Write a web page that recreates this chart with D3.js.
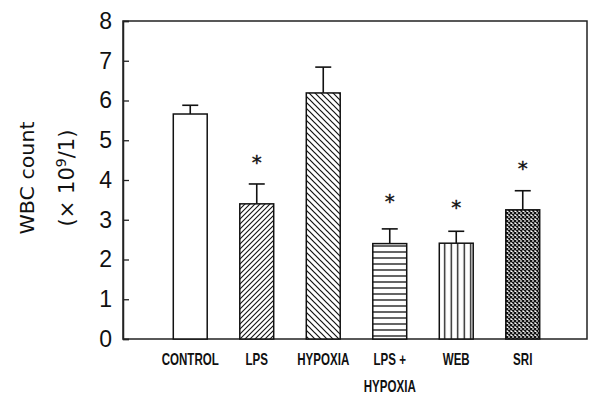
<!DOCTYPE html>
<html>
<head>
<meta charset="utf-8">
<script src="https://cdn.jsdelivr.net/npm/d3@7"></script>
<style>
  body { margin: 0; background: #fff; }
  svg { display: block; }
</style>
</head>
<body>
<div id="chart"></div>
<script>
(function() {
    'use strict';

    // data
    const groups = ['CONTROL', 'LPS', 'HYPOXIA', 'LPS +\nHYPOXIA', 'WEB', 'SRI'];
    const means = [5.66, 3.40, 6.19, 2.40, 2.41, 3.25];
    const errors = [0.22, 0.50, 0.65, 0.37, 0.30, 0.48];
    const significant = [false, true, false, true, true, true];
    const starLevels = [null, 4.51, null, 3.53, 3.36, 4.34];
    const patterns = ['none', 'fwd', 'back', 'horiz', 'vert', 'cross'];
    const yTicks = [0, 1, 2, 3, 4, 5, 6, 7, 8];

    const width = 590, height = 395;
    const margin = { top: 21, right: 3, bottom: 56, left: 123 };
    const innerW = width - margin.left - margin.right;
    const innerH = height - margin.top - margin.bottom;

    const svg = d3.select('#chart').append('svg')
        .attr('width', width)
        .attr('height', height);

    const defs = svg.append('defs');

    function addPattern(id, size, draw) {
        const p = defs.append('pattern')
            .attr('id', id)
            .attr('patternUnits', 'userSpaceOnUse')
            .attr('width', size)
            .attr('height', size);
        p.append('rect').attr('width', size).attr('height', size).attr('fill', '#fff');
        draw(p, size);
    }

    addPattern('fwd', 5, (p, s) => {
        p.append('path').attr('d', `M0,${s} L${s},0 M${-s / 2},${s / 2} L${s / 2},${-s / 2} M${s / 2},${s * 1.5} L${s * 1.5},${s / 2}`)
            .attr('stroke', '#111').attr('stroke-width', 1.1);
    });
    addPattern('back', 6, (p, s) => {
        p.append('path').attr('d', `M0,0 L${s},${s} M${-s / 2},${s / 2} L${s / 2},${s * 1.5} M${s / 2},${-s / 2} L${s * 1.5},${s / 2}`)
            .attr('stroke', '#111').attr('stroke-width', 1.2);
    });
    addPattern('horiz', 6, (p, s) => {
        p.append('path').attr('d', `M0,${s / 2} L${s},${s / 2}`)
            .attr('stroke', '#111').attr('stroke-width', 1.3);
    });
    addPattern('vert', 6.5, (p, s) => {
        p.append('path').attr('d', `M${s / 2},0 L${s / 2},${s}`)
            .attr('stroke', '#111').attr('stroke-width', 1.3);
    });
    addPattern('cross', 4, (p, s) => {
        p.append('path').attr('d', `M0,0 L${s},${s} M0,${s} L${s},0`)
            .attr('stroke', '#111').attr('stroke-width', 1.3);
    });

    const x = d3.scaleBand()
        .domain(groups)
        .range([34, 34 + 6 * 66.5])
        .paddingInner(0.49)
        .paddingOuter(0.245);

    const y = d3.scaleLinear().domain([0, 8]).range([innerH, 0]);

    const g = svg.append('g').attr('transform', `translate(${margin.left},${margin.top})`);

    // frame
    g.append('rect')
        .attr('width', innerW).attr('height', innerH)
        .attr('fill', 'none').attr('stroke', '#222').attr('stroke-width', 1.5);

    // y axis, inward ticks
    const yAxis = g.append('g')
        .call(d3.axisLeft(y).tickValues(yTicks).tickSize(-6).tickPadding(11).tickFormat(d3.format('d')));
    yAxis.select('.domain').attr('stroke', '#222').attr('stroke-width', 1.5);
    yAxis.selectAll('.tick line').attr('stroke', '#222').attr('stroke-width', 1.3);
    yAxis.selectAll('.tick text')
        .attr('font-family', 'Liberation Sans, Arial, sans-serif')
        .attr('font-size', 23)
        .attr('fill', '#111');

    const data = groups.map((name, i) => ({
        name, mean: means[i], err: errors[i], sig: significant[i], star: starLevels[i], pat: patterns[i]
    }));

    // error bars (upper only)
    const eb = g.append('g').selectAll('g').data(data).enter().append('g');
    eb.append('line')
        .attr('x1', d => x(d.name) + x.bandwidth() / 2)
        .attr('x2', d => x(d.name) + x.bandwidth() / 2)
        .attr('y1', d => y(d.mean))
        .attr('y2', d => y(d.mean + d.err))
        .attr('stroke', '#111').attr('stroke-width', 1.6);
    eb.append('line')
        .attr('x1', d => x(d.name) + x.bandwidth() / 2 - 8)
        .attr('x2', d => x(d.name) + x.bandwidth() / 2 + 8)
        .attr('y1', d => y(d.mean + d.err))
        .attr('y2', d => y(d.mean + d.err))
        .attr('stroke', '#111').attr('stroke-width', 1.6);

    // bars
    g.append('g').selectAll('rect').data(data).enter().append('rect')
        .attr('x', d => x(d.name))
        .attr('y', d => y(d.mean))
        .attr('width', x.bandwidth())
        .attr('height', d => y(0) - y(d.mean))
        .attr('fill', d => d.pat === 'none' ? '#fff' : `url(#${d.pat})`)
        .attr('stroke', '#111')
        .attr('stroke-width', 1.5);

    // significance stars
    g.append('g').selectAll('text').data(data.filter(d => d.sig)).enter().append('text')
        .attr('x', d => x(d.name) + x.bandwidth() / 2)
        .attr('y', d => y(d.star) + 9)
        .attr('text-anchor', 'middle')
        .attr('font-family', 'DejaVu Sans, sans-serif')
        .attr('font-size', 20)
        .attr('fill', '#111')
        .attr('stroke', '#111')
        .attr('stroke-width', 0.4)
        .text('*');

    // category labels, squeezed to look like the plotter font
    const labels = g.append('g').selectAll('text').data(data).enter().append('text')
        .attr('x', d => x(d.name) + x.bandwidth() / 2)
        .attr('y', innerH + 26)
        .attr('text-anchor', 'middle')
        .attr('font-family', 'Liberation Sans, Arial, sans-serif')
        .attr('font-weight', 'bold')
        .attr('font-size', 16.5)
        .attr('fill', '#111');
    labels.selectAll('tspan')
        .data(d => d.name.split('\n'))
        .enter().append('tspan')
        .attr('x', function() { return d3.select(this.parentNode).attr('x'); })
        .attr('dy', (d, i) => i === 0 ? 0 : 27)
        .text(d => d)
        .each(function() {
            const w = this.getComputedTextLength();
            d3.select(this).attr('textLength', w * 0.7).attr('lengthAdjust', 'spacingAndGlyphs');
        });

    // y label
    const yl = svg.append('text')
        .attr('transform', `translate(0,${margin.top + y(4.05)}) rotate(-90)`)
        .attr('text-anchor', 'middle')
        .attr('font-family', 'DejaVu Sans, sans-serif')
        .attr('font-size', 20)
        .attr('fill', '#111');
    yl.append('tspan').attr('x', 0).attr('y', 34)
        .attr('textLength', 113).attr('lengthAdjust', 'spacingAndGlyphs')
        .text('WBC count');
    const l2 = yl.append('tspan').attr('x', 0).attr('y', 74).attr('font-size', 21);
    l2.append('tspan').text('(\u00d7 10');
    l2.append('tspan').attr('font-size', 14).attr('dy', -8).text('9');
    l2.append('tspan').attr('dy', 8).text('/1)');
})();
</script>
</body>
</html>
